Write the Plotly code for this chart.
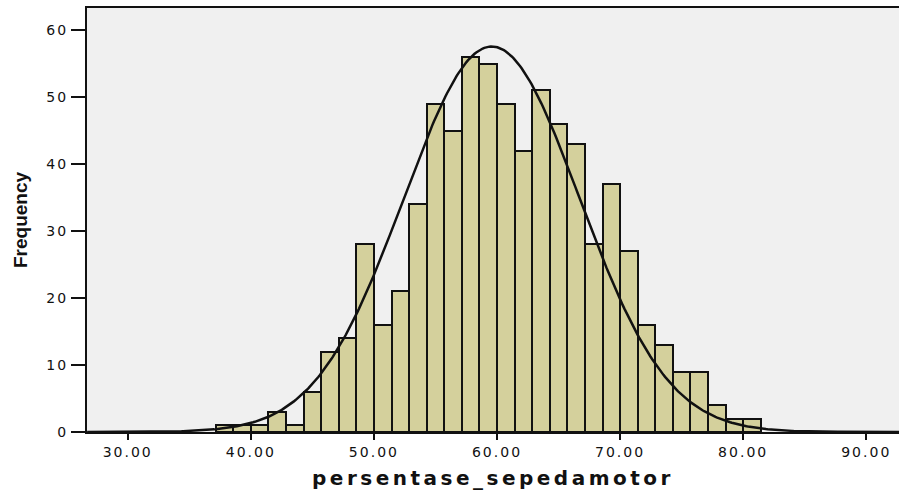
import numpy as np
import plotly.graph_objects as go

# ---- data ----
bin_start = 37.142857          # left edge of first bin
bin_width = 10.0 / 7.0         # SPSS bin width
counts = [1, 1, 1, 3, 1, 6, 12, 14, 28,
          16, 21, 34, 49, 45, 56, 55,
          49, 42, 51, 46, 43, 28, 37,
          27, 16, 13, 9, 9, 4, 2, 2]
curve_mean = 59.57
curve_sd = 7.14
x_ticks = [30, 40, 50, 60, 70, 80, 90]
x_tick_labels = ["30.00", "40.00", "50.00", "60.00", "70.00", "80.00", "90.00"]
y_ticks = [0, 10, 20, 30, 40, 50, 60]
y_tick_labels = ["0", "10", "20", "30", "40", "50", "60"]
x_title = "persentase_sepedamotor"
y_title = "Frequency"

# ---- derived ----
n_total = sum(counts)
centers = [bin_start + bin_width * (i + 0.5) for i in range(len(counts))]
xs = np.linspace(26.7, 92.7, 500)
ys = n_total * bin_width * np.exp(-0.5 * ((xs - curve_mean) / curve_sd) ** 2) / (curve_sd * np.sqrt(2 * np.pi))

fig = go.Figure()
fig.add_trace(go.Bar(
    x=centers, y=counts, width=bin_width,
    marker=dict(color="#d4d09c", line=dict(color="#111111", width=2)),
    showlegend=False,
))
fig.add_trace(go.Scatter(
    x=xs, y=ys, mode="lines",
    line=dict(color="#111111", width=2.5),
    showlegend=False,
))

sp = lambda t, ls: '<span style="letter-spacing:%spx">%s</span>' % (ls, t)

fig.update_layout(
    width=899, height=492,
    margin=dict(l=87, r=0, t=8, b=60),
    paper_bgcolor="white",
    plot_bgcolor="#f0f0f0",
    bargap=0,
    font=dict(family="DejaVu Sans", color="#111111"),
    xaxis=dict(
        range=[26.69, 92.66],
        tickvals=x_ticks,
        ticktext=[sp(t, 2) for t in x_tick_labels],
        tickfont=dict(family="DejaVu Sans", size=14, color="#111111"),
        ticks="outside", ticklen=6, tickwidth=2, tickcolor="#111111",
        showline=True, linecolor="#111111", linewidth=2, mirror=True,
        showgrid=False, zeroline=False,
        title=dict(text=sp(x_title, 3.5),
                   font=dict(family="DejaVu Sans", size=20, color="#111111", weight="bold"),
                   standoff=12),
        automargin=False,
    ),
    yaxis=dict(
        range=[0, 63.3],
        tickvals=y_ticks,
        ticktext=[sp(t, 2) for t in y_tick_labels],
        tickfont=dict(family="DejaVu Sans", size=14, color="#111111"),
        ticks="outside", ticklen=14, tickwidth=2, tickcolor="#111111",
        showline=True, linecolor="#111111", linewidth=2, mirror=False,
        showgrid=False, zeroline=False,
        title=dict(text=y_title,
                   font=dict(family="Liberation Sans", size=19, color="#111111", weight="bold"),
                   standoff=14),
        automargin=False,
    ),
)

fig.write_html("out.html",
               config={"displayModeBar": False},
               post_script="document.body.style.margin='0';document.body.style.padding='0';")
